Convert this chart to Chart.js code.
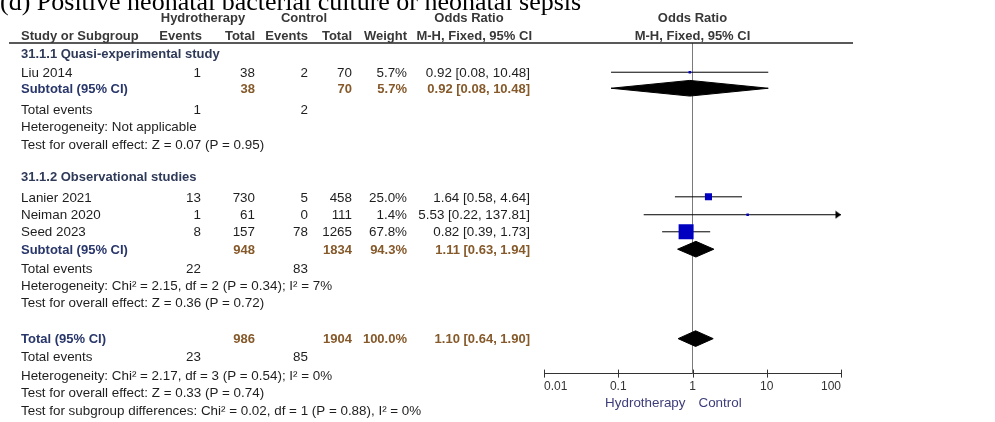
<!DOCTYPE html>
<html><head><meta charset="utf-8">
<script src="https://cdn.jsdelivr.net/npm/chart.js@4.4.0/dist/chart.umd.min.js"></script>
<style>html,body{margin:0;padding:0;background:#fff;}canvas{display:block;}</style>
</head><body>
<canvas id="c" width="995" height="422"></canvas>
<script>
// ---------------- DATA ----------------
const title = '(d) Positive neonatal bacterial culture or neonatal sepsis';
const groupNames = ['31.1.1 Quasi-experimental study', '31.1.2 Observational studies'];
const studies = ['Liu 2014', 'Lanier 2021', 'Neiman 2020', 'Seed 2023'];
const studyGroup = [0, 1, 1, 1];
const hydroEvents = [1, 13, 1, 8];
const hydroTotal = [38, 730, 61, 157];
const ctrlEvents = [2, 5, 0, 78];
const ctrlTotal = [70, 458, 111, 1265];
const weights = [5.7, 25.0, 1.4, 67.8];
const oddsRatio = [0.92, 1.64, 5.53, 0.82];
const ciLow = [0.08, 0.58, 0.22, 0.39];
const ciHigh = [10.48, 4.64, 137.81, 1.73];

const subHydroEvents = [1, 22];
const subHydroTotal = [38, 948];
const subCtrlEvents = [2, 83];
const subCtrlTotal = [70, 1834];
const subWeight = [5.7, 94.3];
const subOR = [0.92, 1.11];
const subLow = [0.08, 0.63];
const subHigh = [10.48, 1.94];
const subHet = ['Heterogeneity: Not applicable', 'Heterogeneity: Chi\u00b2 = 2.15, df = 2 (P = 0.34); I\u00b2 = 7%'];
const subTest = ['Test for overall effect: Z = 0.07 (P = 0.95)', 'Test for overall effect: Z = 0.36 (P = 0.72)'];

const totHydroEvents = 23, totHydroTotal = 986, totCtrlEvents = 85, totCtrlTotal = 1904;
const totWeight = 100.0, totOR = 1.10, totLow = 0.64, totHigh = 1.90;
const totHet = 'Heterogeneity: Chi\u00b2 = 2.17, df = 3 (P = 0.54); I\u00b2 = 0%';
const totTest = 'Test for overall effect: Z = 0.33 (P = 0.74)';
const subgroupTest = 'Test for subgroup differences: Chi\u00b2 = 0.02, df = 1 (P = 0.88), I\u00b2 = 0%';

const tickValues = [0.01, 0.1, 1, 10, 100];
const tickLabels = ['0.01', '0.1', '1', '10', '100'];
const favours = ['Hydrotherapy', 'Control'];

// ---------------- LAYOUT (row units, not data) ----------------
const Y_MAX = 19;
const rowHead1 = -1.49, rowHead2 = -0.46;
const rowGroup = [0.59, 7.69];
const rowStudy = [1.68, 8.84, 9.87, 10.85];
const rowSub = [2.60, 11.85];
const rowEvents = [3.81, 12.97];
const rowHet = [4.80, 13.95];
const rowTest = [5.80, 14.93];
const rowTot = 16.99, rowTotEvents = 18.02, rowTotHet = 19.12, rowTotTest = 20.09, rowSubgroupTest = 21.13;
const rowFavours = 20.65;
const DIAMOND_HALF = 0.45;
const TEXT_SHIFT = 1;
const col = { name: 21, hEv: 201, hTot: 255, cEv: 308, cTot: 352, weight: 407, or: 530 };

const FONT = '"Liberation Sans", Arial, sans-serif';
const REG = 13.4, BOLD = 13;
const C_TEXT = '#1e1e1e', C_HEAD = '#383838', C_GROUP = '#2f3a58', C_SUBLBL = '#28366a', C_SUBNUM = '#85592a', C_FAV = '#3d3d7a';

const fmtOR = (o, l, h) => `${o.toFixed(2)} [${l.toFixed(2)}, ${h.toFixed(2)}]`;
const fmtW = w => `${w.toFixed(1)}%`;

// arrow point style (tip at the centre of the image)
const arrowImg = document.createElement('canvas');
arrowImg.width = 14; arrowImg.height = 9;
{ const a = arrowImg.getContext('2d'); a.fillStyle = '#000'; a.beginPath(); a.moveTo(7, 4.5); a.lineTo(1.5, 0.5); a.lineTo(1.5, 8.5); a.closePath(); a.fill(); }

const X_MAX = tickValues[tickValues.length - 1];
const maxW = Math.max(...weights);

const datasets = [];
// vertical line of no effect
datasets.push({ data: [{ x: 1, y: 0 }, { x: 1, y: Y_MAX }], showLine: true, borderColor: '#7a7a7a', borderWidth: 1, pointRadius: 0, order: 10 });
// CI lines
studies.forEach((s, i) => {
  datasets.push({ data: [{ x: ciLow[i], y: rowStudy[i] }, { x: ciHigh[i], y: rowStudy[i] }], showLine: true, borderColor: '#000', borderWidth: 1, pointRadius: 0, order: 3 });
});
// arrows for truncated CIs
const arrowPts = studies.map((s, i) => ciHigh[i] > X_MAX ? { x: X_MAX, y: rowStudy[i] } : null).filter(p => p);
datasets.push({ data: arrowPts, showLine: false, pointStyle: arrowImg, pointRadius: 5, clip: false, order: 2 });
// squares
datasets.push({
  data: studies.map((s, i) => ({ x: oddsRatio[i], y: rowStudy[i] })),
  showLine: false, pointStyle: 'rect',
  pointRadius: weights.map(w => Math.max(2.5, 15 * Math.pow(w / maxW, 0.75)) / Math.SQRT2),
  backgroundColor: '#0000c0', borderWidth: 0, pointBorderWidth: 0, order: 1
});
// diamonds
const diamond = (o, l, h, y) => [{ x: l, y }, { x: o, y: y - DIAMOND_HALF }, { x: h, y }, { x: o, y: y + DIAMOND_HALF }, { x: l, y }];
subOR.forEach((o, g) => {
  datasets.push({ data: diamond(o, subLow[g], subHigh[g], rowSub[g]), showLine: true, fill: 'shape', backgroundColor: '#000', borderColor: '#000', borderWidth: 1, pointRadius: 0, order: 1 });
});
datasets.push({ data: diamond(totOR, totLow, totHigh, rowTot), showLine: true, fill: 'shape', backgroundColor: '#000', borderColor: '#000', borderWidth: 1, pointRadius: 0, order: 1 });

const textPlugin = {
  id: 'forestText',
  afterDraw(chart) {
    const ctx = chart.ctx;
    const ys = chart.scales.y, xs = chart.scales.x;
    const Y = r => ys.getPixelForValue(r) + TEXT_SHIFT;
    const x1 = xs.getPixelForValue(1);
    const t = (s, x, r, align, bold, color) => {
      ctx.font = `${bold ? 'bold ' : ''}${bold ? BOLD : REG}px ${FONT}`;
      ctx.fillStyle = color; ctx.textAlign = align; ctx.textBaseline = 'middle';
      ctx.fillText(String(s), x, Y(r));
    };
    ctx.save();
    // title
    ctx.font = `26px "Liberation Serif", "Times New Roman", serif`;
    ctx.fillStyle = '#000'; ctx.textAlign = 'left'; ctx.textBaseline = 'alphabetic';
    ctx.fillText(title, 0, 10);
    // header rule
    ctx.strokeStyle = '#222'; ctx.lineWidth = 1.5;
    ctx.beginPath(); ctx.moveTo(9, ys.getPixelForValue(0)); ctx.lineTo(853, ys.getPixelForValue(0)); ctx.stroke();
    // headers
    t('Hydrotherapy', 203, rowHead1, 'center', true, C_HEAD);
    t('Control', 304, rowHead1, 'center', true, C_HEAD);
    t('Odds Ratio', 469, rowHead1, 'center', true, C_HEAD);
    t('Odds Ratio', x1, rowHead1, 'center', true, C_HEAD);
    t('Study or Subgroup', col.name, rowHead2, 'left', true, C_HEAD);
    t('Events', col.hEv + 1, rowHead2, 'right', true, C_HEAD);
    t('Total', col.hTot, rowHead2, 'right', true, C_HEAD);
    t('Events', col.cEv, rowHead2, 'right', true, C_HEAD);
    t('Total', col.cTot, rowHead2, 'right', true, C_HEAD);
    t('Weight', col.weight, rowHead2, 'right', true, C_HEAD);
    t('M-H, Fixed, 95% CI', col.or + 2, rowHead2, 'right', true, C_HEAD);
    t('M-H, Fixed, 95% CI', x1, rowHead2, 'center', true, C_HEAD);
    // groups
    groupNames.forEach((gname, g) => {
      t(gname, col.name, rowGroup[g], 'left', true, C_GROUP);
      studies.forEach((s, i) => {
        if (studyGroup[i] !== g) return;
        const r = rowStudy[i];
        t(s, col.name, r, 'left', false, C_TEXT);
        t(hydroEvents[i], col.hEv, r, 'right', false, C_TEXT);
        t(hydroTotal[i], col.hTot, r, 'right', false, C_TEXT);
        t(ctrlEvents[i], col.cEv, r, 'right', false, C_TEXT);
        t(ctrlTotal[i], col.cTot, r, 'right', false, C_TEXT);
        t(fmtW(weights[i]), col.weight, r, 'right', false, C_TEXT);
        t(fmtOR(oddsRatio[i], ciLow[i], ciHigh[i]), col.or, r, 'right', false, C_TEXT);
      });
      const rs = rowSub[g];
      t('Subtotal (95% CI)', col.name, rs, 'left', true, C_SUBLBL);
      t(subHydroTotal[g], col.hTot, rs, 'right', true, C_SUBNUM);
      t(subCtrlTotal[g], col.cTot, rs, 'right', true, C_SUBNUM);
      t(fmtW(subWeight[g]), col.weight, rs, 'right', true, C_SUBNUM);
      t(fmtOR(subOR[g], subLow[g], subHigh[g]), col.or, rs, 'right', true, C_SUBNUM);
      t('Total events', col.name, rowEvents[g], 'left', false, C_TEXT);
      t(subHydroEvents[g], col.hEv, rowEvents[g], 'right', false, C_TEXT);
      t(subCtrlEvents[g], col.cEv, rowEvents[g], 'right', false, C_TEXT);
      t(subHet[g], col.name, rowHet[g], 'left', false, C_TEXT);
      t(subTest[g], col.name, rowTest[g], 'left', false, C_TEXT);
    });
    // overall
    t('Total (95% CI)', col.name, rowTot, 'left', true, C_SUBLBL);
    t(totHydroTotal, col.hTot, rowTot, 'right', true, C_SUBNUM);
    t(totCtrlTotal, col.cTot, rowTot, 'right', true, C_SUBNUM);
    t(fmtW(totWeight), col.weight, rowTot, 'right', true, C_SUBNUM);
    t(fmtOR(totOR, totLow, totHigh), col.or, rowTot, 'right', true, C_SUBNUM);
    t('Total events', col.name, rowTotEvents, 'left', false, C_TEXT);
    t(totHydroEvents, col.hEv, rowTotEvents, 'right', false, C_TEXT);
    t(totCtrlEvents, col.cEv, rowTotEvents, 'right', false, C_TEXT);
    t(totHet, col.name, rowTotHet, 'left', false, C_TEXT);
    t(totTest, col.name, rowTotTest, 'left', false, C_TEXT);
    t(subgroupTest, col.name, rowSubgroupTest, 'left', false, C_TEXT);
    // favours labels
    t(favours[0], x1 - 7, rowFavours, 'right', false, C_FAV);
    t(favours[1], x1 + 6, rowFavours, 'left', false, C_FAV);
    // crossing tick marks on x axis
    const ay = xs.top;
    ctx.strokeStyle = '#333'; ctx.lineWidth = 1;
    xs.ticks.forEach(tk => {
      const px = Math.round(xs.getPixelForValue(tk.value)) + 0.5;
      ctx.beginPath(); ctx.moveTo(px, ay - 4); ctx.lineTo(px, ay + 4); ctx.stroke();
    });
    ctx.restore();
  }
};

new Chart(document.getElementById('c'), {
  type: 'scatter',
  data: { datasets },
  options: {
    responsive: false, animation: false,
    layout: { padding: { left: 544, right: 154, top: 43, bottom: 22 } },
    plugins: { legend: { display: false }, tooltip: { enabled: false } },
    scales: {
      x: {
        type: 'logarithmic', min: 0.01, max: 100,
        afterBuildTicks: axis => { axis.ticks = tickValues.map(v => ({ value: v })); },
        ticks: { align: 'inner', autoSkip: false, maxRotation: 0, padding: 6, color: '#333', font: { family: FONT, size: 12 }, callback: (v, i) => tickLabels[i] },
        grid: { drawOnChartArea: false, drawTicks: false },
        border: { display: true, color: '#333', width: 1 }
      },
      y: { type: 'linear', reverse: true, min: 0, max: Y_MAX, display: false }
    }
  },
  plugins: [textPlugin]
});
</script></body></html>
